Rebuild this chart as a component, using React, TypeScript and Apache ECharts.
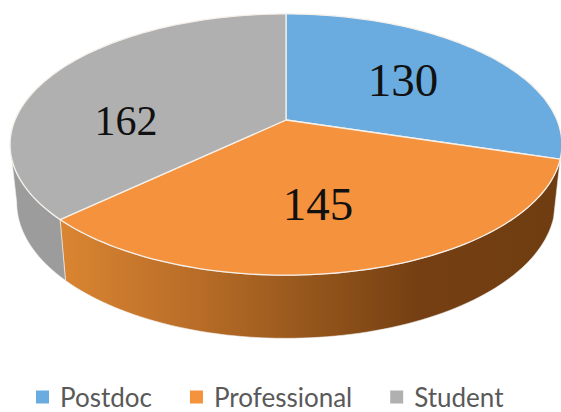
import React, { useEffect, useRef } from "react";
import * as echarts from "echarts";

const categories = ["Postdoc", "Professional", "Student"];
const values = [130, 145, 162];
const faceColors = ["#6AACDF", "#F4923D", "#B0B0B0"];

// Layout of the perspective disc, kept apart from the data
const CX = 286;
const TOP_CY = 120;
const RX = 271;
const RY = 126;
const K = 0.188;
const BOTTOM_CY = 177;
const BOTTOM_SCALE_X = 0.976;
const BOTTOM_RY = 131;
const FRONT_START = 100.8; // degrees clockwise from 12 o'clock where the wall gets visible
const FRONT_END = 259.2;
const STEP = 1.5;

const labelSpots = [
  { x: 403, y: 80, size: 47 },
  { x: 318, y: 204, size: 47 },
  { x: 126, y: 121, size: 42 },
];

const wallFills: any[] = [
  null,
  {
    type: "linear",
    x: 0,
    y: 0,
    x2: 1,
    y2: 0,
    colorStops: [
      { offset: 0, color: "#DA8531" },
      { offset: 0.28, color: "#B76C27" },
      { offset: 0.55, color: "#8D5119" },
      { offset: 0.72, color: "#753F13" },
      { offset: 1, color: "#6F3D11" },
    ],
  },
  "#9C9C9C",
];

const project = (deg: number, cy: number, rx: number, ry: number) => {
  const a = (deg * Math.PI) / 180;
  const X = Math.sin(a);
  const Y = -Math.cos(a);
  const d = 1 - K * Y;
  return [CX + (rx * X) / d, cy + (ry * Y) / d];
};

const arc = (from: number, to: number, cy: number, rx: number, ry: number) => {
  const pts: number[][] = [];
  const n = Math.max(1, Math.ceil((to - from) / STEP));
  for (let i = 0; i <= n; i++) pts.push(project(from + ((to - from) * i) / n, cy, rx, ry));
  return pts;
};

const total = values.reduce((s, v) => s + v, 0);

const makeRender = (idx: number) => () => {
  const start = (values.slice(0, idx).reduce((s, v) => s + v, 0) / total) * 360;
  const end = start + (values[idx] / total) * 360;
  const children: any[] = [];
  const wallFrom = Math.max(start, FRONT_START);
  const wallTo = Math.min(end, FRONT_END);
  if (wallFills[idx] && wallTo > wallFrom) {
    children.push({
      type: "polygon",
      shape: {
        points: [
          ...arc(wallFrom, wallTo, TOP_CY, RX, RY),
          ...arc(wallFrom, wallTo, BOTTOM_CY, RX * BOTTOM_SCALE_X, BOTTOM_RY).reverse(),
        ],
      },
      style: { fill: wallFills[idx], stroke: "#F2F2F2", lineWidth: 0.6 },
      z2: 1,
    });
  }
  children.push({
    type: "polygon",
    shape: { points: [[CX, TOP_CY], ...arc(start, end, TOP_CY, RX, RY)] },
    style: { fill: faceColors[idx], stroke: "#F6F0EA", lineWidth: 1.3 },
    z2: 2,
  });
  const spot = labelSpots[idx];
  children.push({
    type: "text",
    x: spot.x,
    y: spot.y,
    style: {
      text: String(values[idx]),
      fill: "#111111",
      font: `${spot.size}px "Liberation Serif"`,
      textAlign: "center",
      textVerticalAlign: "middle",
    },
    z2: 3,
  });
  return { type: "group", children };
};

export default function App() {
  const ref = useRef<HTMLDivElement>(null);
  useEffect(() => {
    document.body.style.margin = "0";
    const chart = echarts.init(ref.current!, undefined, { renderer: "svg" });
    chart.setOption({
      animation: false,
      backgroundColor: "#ffffff",
      legend: {
        left: 36,
        top: 384,
        padding: 0,
        itemWidth: 13,
        itemHeight: 13,
        itemGap: 38,
        selectedMode: false,
        icon: "rect",
        data: categories,
        textStyle: {
          fontFamily: "Lato",
          fontSize: 26,
          lineHeight: 24,
          color: "#595959",
          padding: [0, 0, 0, 6],
        },
      },
      series: categories.map((name, i) => ({
        type: "custom",
        name,
        coordinateSystem: "none",
        silent: true,
        z: 2,
        itemStyle: { color: faceColors[i] },
        data: [[values[i]]],
        renderItem: makeRender(i),
      })),
    });
    return () => chart.dispose();
  }, []);
  return <div ref={ref} style={{ width: 561, height: 412 }} />;
}
